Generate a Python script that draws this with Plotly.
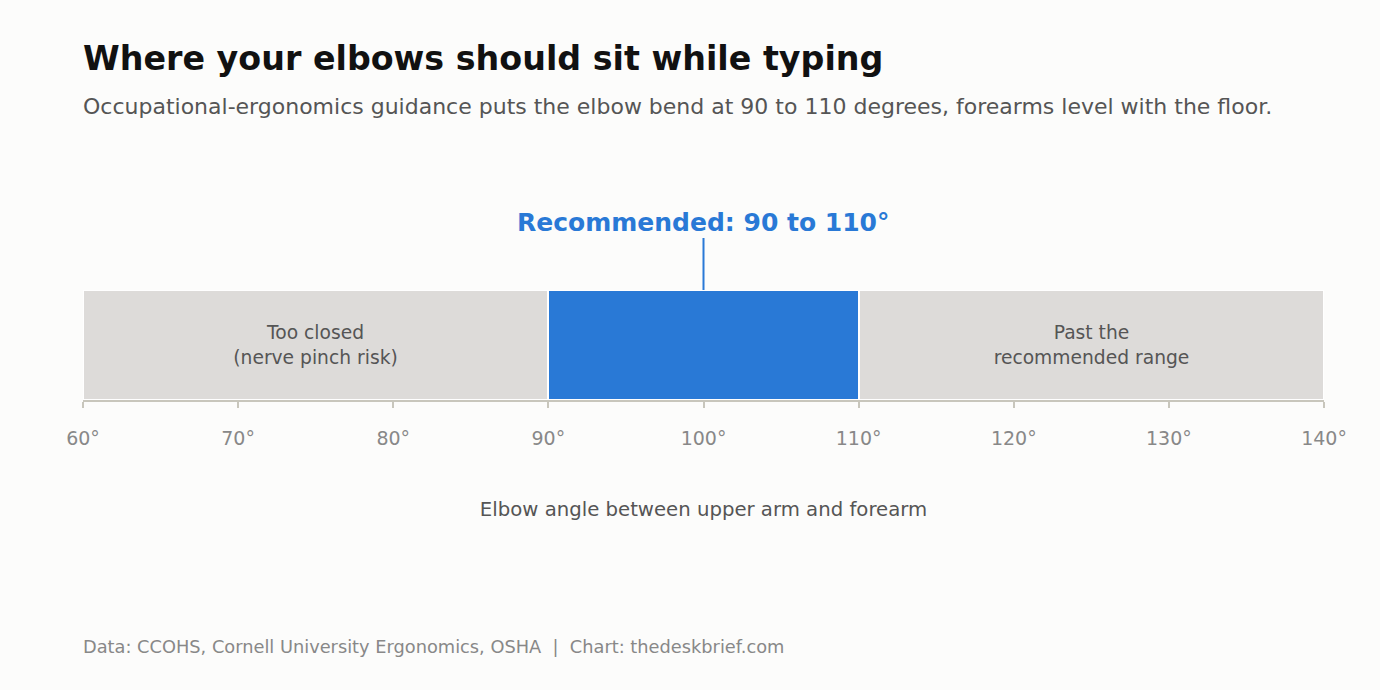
import plotly.graph_objects as go

# Data
zone_names = ["Too closed", "Recommended", "Past the recommended range"]
zone_start = [60, 90, 110]
zone_end = [90, 110, 140]
zone_colors = ["#dddbd9", "#2979d6", "#dddbd9"]
zone_labels = ["Too closed<br>(nerve pinch risk)", "", "Past the<br>recommended range"]
tick_vals = [60, 70, 80, 90, 100, 110, 120, 130, 140]
tick_text = [f"{v}°" for v in tick_vals]
rec_low, rec_high = 90, 110

FONT = "DejaVu Sans"

fig = go.Figure()
for name, s, e, c, lab in zip(zone_names, zone_start, zone_end, zone_colors, zone_labels):
    fig.add_trace(go.Bar(
        y=["zone"], x=[e - s], base=[s], orientation="h",
        marker=dict(color=c, line=dict(color="#ffffff", width=2)),
        width=1, text=[lab], textposition="inside", insidetextanchor="middle",
        textfont=dict(family=FONT, size=18.7, color="#555555"),
        hoverinfo="skip", showlegend=False, name=name,
    ))

mid = (rec_low + rec_high) / 2
fig.add_shape(type="line", xref="x", yref="paper", x0=mid, x1=mid, y0=1.0, y1=1.473,
              line=dict(color="#2979d6", width=2))
fig.add_annotation(xref="x", yref="paper", x=mid, y=1.618, text="<b>Recommended: 90 to 110°</b>",
                   showarrow=False, yanchor="middle",
                   font=dict(family=FONT, size=25, color="#2979d6"))

fig.add_annotation(xref="paper", yref="paper", x=0, y=3.109, xanchor="left", yanchor="middle",
                   xshift=-2, text="<b>Where your elbows should sit while typing</b>",
                   showarrow=False, font=dict(family=FONT, size=33.3, color="#111111"))
fig.add_annotation(xref="paper", yref="paper", x=0, y=2.664, xanchor="left", yanchor="middle",
                   xshift=-2,
                   text="Occupational-ergonomics guidance puts the elbow bend at 90 to 110 degrees, forearms level with the floor.",
                   showarrow=False, font=dict(family=FONT, size=22, color="#555555"))
fig.add_annotation(xref="paper", yref="paper", x=0, y=-2.245, xanchor="left", yanchor="middle",
                   xshift=-2,
                   text="Data: CCOHS, Cornell University Ergonomics, OSHA  |  Chart: thedeskbrief.com",
                   showarrow=False, font=dict(family=FONT, size=17.8, color="#888888"))

fig.update_layout(
    width=1380, height=690,
    paper_bgcolor="#fcfcfb", plot_bgcolor="#fcfcfb",
    margin=dict(l=83, r=56, t=290, b=290),
    barmode="overlay", bargap=0,
    xaxis=dict(range=[60, 140], tickvals=tick_vals, ticktext=tick_text,
               showgrid=False, zeroline=False, showline=True, linecolor="#c8c6bc", linewidth=2,
               ticks="outside", ticklen=6, tickcolor="#c8c6bc", tickwidth=2,
               ticklabelstandoff=14,
               tickfont=dict(family=FONT, size=19, color="#888888"),
               title=dict(text="Elbow angle between upper arm and forearm", standoff=54,
                          font=dict(family=FONT, size=19.7, color="#555555"))),
    yaxis=dict(range=[-0.5, 0.5], visible=False, fixedrange=True),
)

fig.write_html("out.html", config={"displayModeBar": False},
               post_script="document.body.style.margin='0';")
